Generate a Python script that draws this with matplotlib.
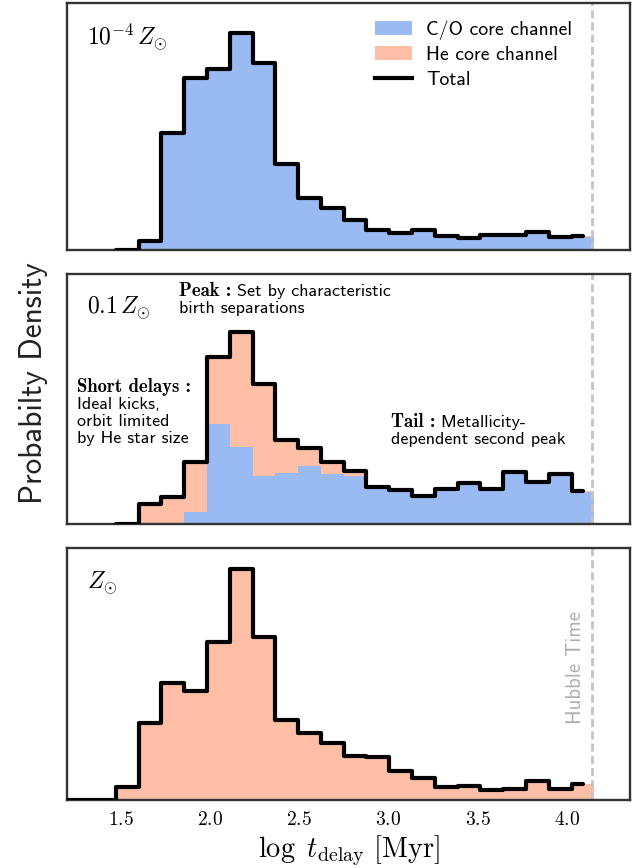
import numpy as np
import matplotlib
matplotlib.use("Agg")
import matplotlib.pyplot as plt
from matplotlib.patches import Patch
from matplotlib.lines import Line2D
from matplotlib.ticker import FuncFormatter

plt.rcParams['font.family'] = ['cmss10', 'DejaVu Sans']
plt.rcParams['mathtext.fontset'] = 'cm'
plt.rcParams['axes.unicode_minus'] = False
SANS = ['cmss10', 'DejaVu Sans']
BOLD = ['cmb10', 'DejaVu Serif']

# ---------------- data ----------------
bin_lo, bin_hi, n_bins = 1.09, 4.155, 24          # log t_delay bin edges
hubble_time = np.log10(13.8e3)                     # log Myr
nan = np.nan

# 10^-4 Zsun
co_low = [nan, nan, nan, 0.0, 0.036, 0.475, 0.696, 0.732, 0.880, 0.759, 0.347, 0.210,
          0.170, 0.120, 0.080, 0.067, 0.080, 0.056, 0.048, 0.060, 0.060, 0.072, 0.052, 0.052]
he_low = [nan, nan, nan, 0.0, 0.0, 0.0, 0.0, 0.0, 0.0, 0.0, 0.0, 0.0,
          0.0, 0.0, 0.0, 0.0, 0.0, 0.0, 0.0, 0.0, 0.0, 0.0, 0.0, 0.004]
# 0.1 Zsun
co_mid = [nan, nan, nan, 0.0, 0.0, 0.0, 0.047, 0.400, 0.307, 0.191, 0.203, 0.231,
          0.199, 0.193, 0.144, 0.134, 0.111, 0.138, 0.162, 0.138, 0.205, 0.165, 0.198, 0.126]
he_mid = [nan, nan, nan, 0.0, 0.080, 0.109, 0.202, 0.269, 0.462, 0.369, 0.134, 0.073,
          0.048, 0.019, 0.003, 0.002, 0.002, 0.002, 0.002, 0.002, 0.002, 0.002, 0.002, 0.007]
# Zsun
co_sol = [0.0] * 24
he_sol = [0.0, 0.0, 0.0, 0.051, 0.305, 0.465, 0.434, 0.626, 0.916, 0.648, 0.318, 0.265,
          0.225, 0.175, 0.171, 0.115, 0.088, 0.051, 0.057, 0.040, 0.044, 0.074, 0.044, 0.064]

panel_labels = [r'$10^{-4}\,Z_{\odot}$', r'$0.1\,Z_{\odot}$', r'$Z_{\odot}$']
legend_labels = ['C/O core channel', 'He core channel', 'Total']
tick_values = [1.5, 2.0, 2.5, 3.0, 3.5, 4.0]

# ---------------- style ----------------
c_co = '#9abaf3'
c_he = '#ffbfa7'
spine_c = '#333333'

fig = plt.figure(figsize=(6.39, 8.68), dpi=100)
left, width = 0.105, 0.881
rects = [(0.712, 0.2845), (0.3965, 0.2880), (0.0783, 0.2903)]
axes = [fig.add_axes([left, b, width, h]) for b, h in rects]

edges = np.linspace(bin_lo, bin_hi, n_bins + 1)
centers = 0.5 * (edges[:-1] + edges[1:])
w = edges[1] - edges[0]

datasets = [(co_low, he_low), (co_mid, he_mid), (co_sol, he_sol)]

for ax, (co, he), lab in zip(axes, datasets, panel_labels):
    co = np.asarray(co, float)
    he = np.asarray(he, float)
    tot = co + he
    ax.bar(centers, np.nan_to_num(co), width=w, color=c_co, linewidth=0, zorder=1)
    ax.bar(centers, np.nan_to_num(he), width=w, bottom=np.nan_to_num(co), color=c_he,
           linewidth=0, zorder=1)
    xs, ys = [], []
    for i in range(len(tot)):
        if np.isnan(tot[i]):
            continue
        right = edges[i + 1] if i < len(tot) - 1 else centers[i]
        xs += [edges[i], right]
        ys += [tot[i], tot[i]]
    ax.plot(xs, ys, color='black', lw=3.0, zorder=3, solid_capstyle='round')
    ax.axvline(hubble_time, color='#c4c4c4', lw=2, dashes=(2.9, 1.5), zorder=2)
    ax.set_xlim(1.2, 4.355)
    ax.set_ylim(0, 1.0)
    ax.set_yticks([])
    ax.tick_params(axis='both', length=0)
    for s in ax.spines.values():
        s.set_color(spine_c)
        s.set_linewidth(1.7)
    ax.text(0.035, 0.86, lab, transform=ax.transAxes, fontsize=17, va='center', ha='left')
    ax.set_xticks(tick_values)
    ax.set_xticklabels([])

axes[2].xaxis.set_major_formatter(FuncFormatter(lambda v, p: r'$%.1f$' % v))
axes[2].tick_params(axis='x', labelsize=14, pad=8)
axes[2].set_xlabel(r'$\log\ t_{\rm delay}\ [{\rm Myr}]$', fontsize=20.5, labelpad=3)

fig.text(0.052, 0.559, 'Probabilty Density', rotation=90, fontsize=22.5, family=SANS,
         ha='center', va='center', color='#222222')

handles = [Patch(facecolor=c_co, edgecolor='none'),
           Patch(facecolor=c_he, edgecolor='none'),
           Line2D([0], [0], color='black', lw=3)]
axes[0].legend(handles, legend_labels, loc='upper left', bbox_to_anchor=(0.515, 1.003),
               frameon=False, prop={'family': SANS, 'size': 14.2}, handlelength=1.9,
               handletextpad=0.7, labelspacing=0.33)

# ---- annotations in the middle panel ----
ax = axes[1]
renderer = fig.canvas.get_renderer()


def header(ax, x, y, bold, rest, bsize=13.5, ssize=13):
    t1 = ax.text(x, y, bold, transform=ax.transAxes, fontsize=bsize, family=BOLD,
                 va='baseline', ha='left')
    bb = t1.get_window_extent(renderer)
    x2 = ax.transAxes.inverted().transform((bb.x1, bb.y0))[0]
    if rest:
        ax.text(x2, y, rest, transform=ax.transAxes, fontsize=ssize, family=SANS,
                va='baseline', ha='left')


def plain(ax, x, y, s, ssize=13):
    ax.text(x, y, s, transform=ax.transAxes, fontsize=ssize, family=SANS,
            va='baseline', ha='left')


dy = 0.068
header(ax, 0.198, 0.913, 'Peak :', ' Set by characteristic')
plain(ax, 0.198, 0.913 - dy, 'birth separations')

header(ax, 0.018, 0.527, 'Short delays :', '')
for k, s in enumerate(['Ideal kicks,', 'orbit limited', 'by He star size']):
    plain(ax, 0.018, 0.527 - (k + 1) * dy, s)

header(ax, 0.575, 0.387, 'Tail :', ' Metallicity-')
plain(ax, 0.575, 0.387 - dy, 'dependent second peak')

axes[2].text(4.05, 0.526, 'Hubble Time', rotation=90, color='#b0b0b0', fontsize=15,
             family=SANS, ha='center', va='center')

fig.savefig('out.png', dpi=100)
